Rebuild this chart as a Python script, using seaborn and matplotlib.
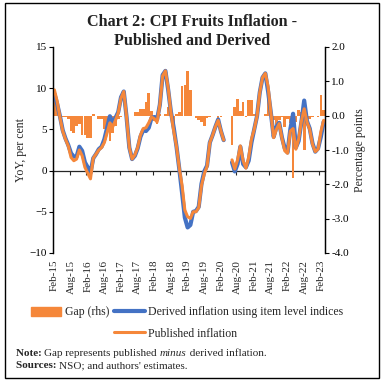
import numpy as np
import pandas as pd
import matplotlib
matplotlib.use("Agg")
import matplotlib.pyplot as plt
from matplotlib.patches import Patch, Rectangle
from matplotlib.lines import Line2D
import seaborn as sns

# months Feb-15 .. Mar-23 (Apr/May-20 not available)
months = pd.date_range("2015-02-01", "2023-03-01", freq="MS")

published = [9.8, 8.4, 6.5, 4.8, 3.8, 3.0, 1.6, 1.2, 1.4, 2.5,
             1.8, 0.4, -0.3, -1.0, 1.5, 2.0, 2.5, 2.8, 3.4, 4.6,
             5.8, 5.3, 6.1, 7.0, 8.8, 9.6, 6.5, 2.8, 1.4, 1.9,
             2.8, 4.3, 5.1, 5.2, 5.8, 6.5, 6.3, 5.9, 8.0, 11.5,
             12.1, 10.0, 7.0, 4.8, 2.9, 0.3, -1.8, -4.8, -5.6, -5.8,
             -5.0, -5.0, -4.5, -1.8, -0.4, 0.5, 3.4, 4.3, 5.3, 6.1,
             4.8, 3.7, np.nan, np.nan, 1.3, 0.2, 1.3, 3.0, 1.2, 0.3,
             1.6, 3.8, 5.0, 6.6, 9.5, 11.3, 11.8, 10.2, 7.0, 4.0,
             5.0, 5.7, 3.9, 2.4, 2.1, 4.8, 5.1, 2.6, 3.8, 6.0,
             7.5, 5.9, 5.0, 3.2, 2.3, 2.6, 4.7, 6.1]

derived = [9.3, 8.1, 6.6, 4.9, 3.9, 3.1, 2.1, 1.7, 1.7, 2.9,
           2.4, 1.0, 0.4, -0.3, 1.5, 2.0, 2.6, 2.9, 3.8, 5.2,
           6.6, 5.8, 6.4, 7.1, 8.9, 9.6, 6.5, 2.8, 1.4, 1.8,
           2.7, 4.1, 4.9, 4.8, 5.2, 6.4, 6.5, 6.2, 8.0, 11.6,
           12.1, 9.8, 7.1, 5.2, 2.9, 0.2, -2.7, -5.7, -6.9, -6.6,
           -5.0, -4.9, -4.4, -1.6, -0.1, 0.6, 3.4, 4.3, 5.3, 6.2,
           4.8, 3.7, np.nan, np.nan, 1.0, -0.1, 0.8, 2.9, 0.8, 0.4,
           1.2, 3.4, 5.0, 6.6, 9.5, 11.3, 11.8, 9.6, 7.0, 4.1,
           5.3, 5.8, 4.0, 2.7, 2.2, 5.0, 6.9, 2.8, 3.6, 5.9,
           8.5, 6.0, 5.1, 3.3, 2.3, 2.7, 4.1, 5.9]

gap = [0.5, 0.3, -0.05, -0.05, -0.05, -0.1, -0.45, -0.5, -0.3, -0.25,
       -0.55, -0.55, -0.65, -0.65, 0.05, 0.0, -0.1, -0.1, -0.4, -0.55,
       -0.75, -0.5, -0.3, -0.1, -0.05, 0.0, 0.0, -0.02, 0.0, 0.1,
       0.1, 0.2, 0.2, 0.4, 0.65, 0.15, -0.15, -0.25, 0.05, 0.0,
       0.05, 0.25, -0.1, -0.42, 0.05, 0.1, 0.85, 0.9, 1.3, 0.75,
       0.0, -0.08, -0.12, -0.18, -0.3, -0.08, -0.03, 0.0, 0.0, -0.08,
       -0.03, 0.0, np.nan, np.nan, -0.85, 0.26, 0.5, 0.15, 0.4, -0.05,
       0.45, 0.45, 0.05, 0.0, 0.0, 0.0, 0.05, 0.6, 0.0, -0.13,
       -0.27, -0.13, -0.05, -0.32, -0.1, -0.2, -1.83, -0.18, 0.17, 0.1,
       -1.0, -0.08, -0.1, -0.05, 0.0, -0.05, 0.6, 0.17]

tick_labels = [d.strftime("%b-%y") for d in months[::6]]

ORANGE = "#F5873A"
BLUE = "#4472C4"

n = len(months)
df = pd.DataFrame({"t": np.arange(n), "published": published,
                   "derived": derived, "gap": gap})
# separate segments so the missing months leave a break in the lines
df["seg"] = df["published"].isna().cumsum()
lines = df.dropna(subset=["published"])
bars = df.dropna(subset=["gap"])

sns.set_style("white")
plt.rcParams["font.family"] = ["Liberation Serif", "DejaVu Serif"]

fig = plt.figure(figsize=(3.88, 3.82), dpi=100)
ax = fig.add_axes([53 / 388, 1 - 253 / 382, 272 / 388, 206 / 382])

# gap bars on the right-hand scale, one category per month
sns.barplot(data=bars, x="t", y="gap", order=list(range(n)), width=0.95,
            color=ORANGE, saturation=1, errorbar=None, linewidth=0,
            edgecolor=ORANGE, ax=ax)

# inflation lines on the left-hand scale
axl = ax.twinx()
sns.lineplot(data=lines, x="t", y="derived", units="seg", estimator=None,
             color=BLUE, lw=3.0, ax=axl)
sns.lineplot(data=lines, x="t", y="published", units="seg", estimator=None,
             color=ORANGE, lw=2.2, ax=axl)

ax.set_ylim(-4, 2)
rticks = np.arange(-4, 2.1, 1)
ax.set_yticks(rticks)
ax.set_yticklabels([f"{v:.1f}" for v in rticks])
ax.yaxis.tick_right()
ax.yaxis.set_label_position("right")
ax.set_ylabel("Percentage points", fontsize=8.5, labelpad=4)

axl.set_ylim(-10, 15)
axl.set_yticks(np.arange(-10, 16, 5))
axl.yaxis.tick_left()
axl.yaxis.set_label_position("left")
axl.set_ylabel("YoY, per cent", fontsize=8.5, labelpad=2)

for a in (ax, axl):
    a.set_xlim(-0.5, n - 0.5)
    a.set_xlabel("")
    for s in ("top", "bottom"):
        a.spines[s].set_visible(False)
    for s in ("left", "right"):
        a.spines[s].set_color("black")
        a.spines[s].set_linewidth(0.9)
    a.tick_params(axis="y", direction="out", length=3, width=0.8,
                  labelsize=8, pad=1.5, colors="black")

ax.set_xticks(np.arange(0, n, 6))
ax.set_xticklabels(tick_labels, rotation=90, fontsize=8)
ax.tick_params(axis="x", length=0, pad=5)
axl.tick_params(axis="x", bottom=False, labelbottom=False)

# zero line with tick marks between categories
zero = ax.secondary_xaxis(0.4)
zero.set_xticks(np.arange(-0.5, n, 6))
zero.tick_params(direction="out", length=3, width=0.8, labelbottom=False)
zero.spines["bottom"].set_linewidth(0.9)

fig.text(0.495, 1 - 22 / 382, "Chart 2: CPI Fruits Inflation -",
         ha="center", va="center", fontsize=11.6, fontweight="bold", color="#222222")
fig.text(0.495, 1 - 41 / 382, "Published and Derived",
         ha="center", va="center", fontsize=11.6, fontweight="bold", color="#222222")

handles = [Patch(color=ORANGE), Patch(visible=False),
           Line2D([], [], color=BLUE, lw=3.0),
           Line2D([], [], color=ORANGE, lw=2.2)]
labels = ["Gap (rhs)", "", "Derived inflation using item level indices",
          "Published inflation"]
fig.legend(handles, labels, ncol=2, loc="center left",
           bbox_to_anchor=(20 / 388, 1 - 323 / 382), frameon=False,
           fontsize=8.5, handlelength=2.6, handleheight=0.8,
           columnspacing=0.4, labelspacing=0.8, handletextpad=0.3)

# note and sources
renderer = fig.canvas.get_renderer()


def run_text(x, y, parts):
    for txt, kw in parts:
        t = fig.text(x, y, txt, fontsize=8.0, va="center", **kw)
        bb = t.get_window_extent(renderer)
        x += bb.width / fig.bbox.width


run_text(16 / 388, 1 - 353 / 382,
         [("Note: ", {"fontweight": "bold"}),
          ("Gap represents published ", {}),
          ("minus", {"style": "italic"}),
          (" derived inflation.", {})])
run_text(16 / 388, 1 - 366 / 382,
         [("Sources: ", {"fontweight": "bold"}),
          ("NSO; and authors' estimates.", {})])

fig.patches.append(Rectangle((5 / 388, 1 - 378 / 382), 374 / 388, 375 / 382,
                             transform=fig.transFigure, fill=False,
                             edgecolor="black", lw=1.0))

fig.savefig("out.png", dpi=100)
